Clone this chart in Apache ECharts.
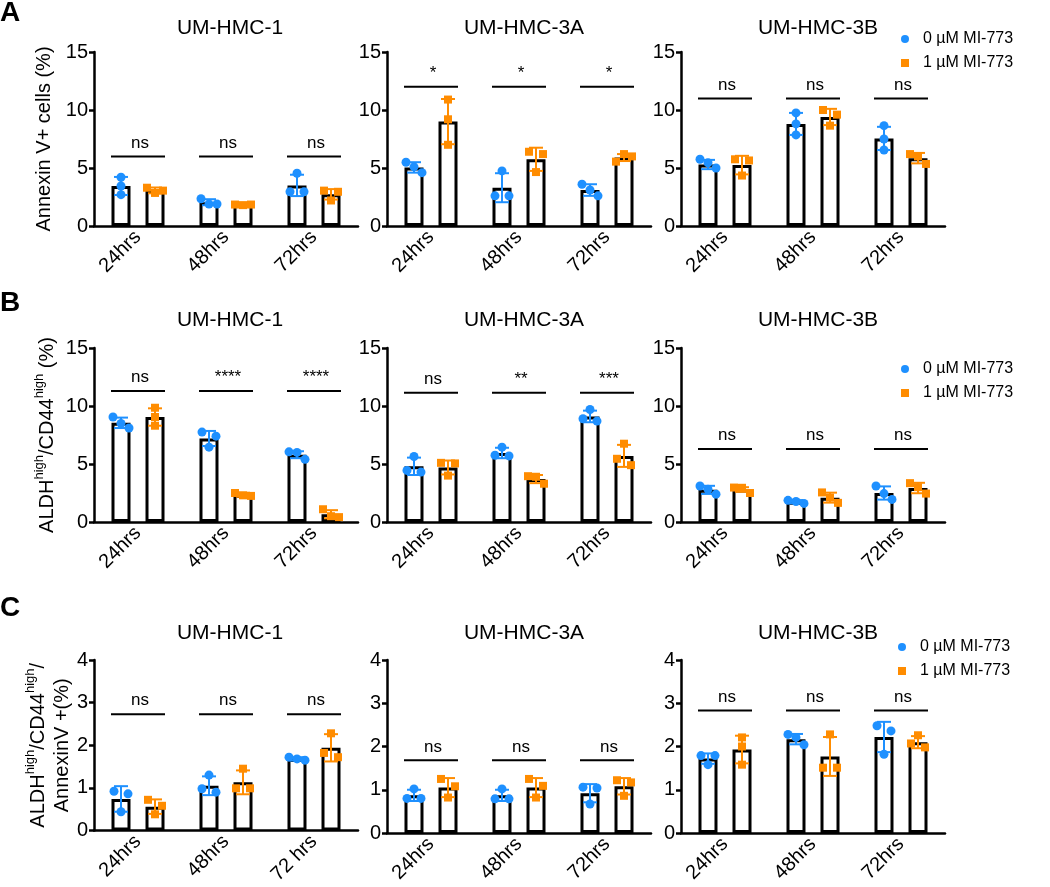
<!DOCTYPE html>
<html><head><meta charset="utf-8">
<script src="https://cdn.jsdelivr.net/npm/echarts@6/dist/echarts.min.js"></script>
<style>html,body{margin:0;padding:0;background:#fff}#chart{width:1050px;height:887px}</style>
</head><body><div id="chart"></div>
<script>
// ---------------- DATA ----------------
const categories = ['24hrs', '48hrs', '72hrs'];
const categoriesC1 = ['24hrs', '48hrs', '72 hrs'];
const cellLines = ['UM-HMC-1', 'UM-HMC-3A', 'UM-HMC-3B'];
const seriesNames = ['0 µM MI-773', '1 µM MI-773'];
const panelLetters = ['A', 'B', 'C'];
const yMaxRows = [15, 15, 4];
const yIntervalRows = [5, 5, 1];

// Row A: Annexin V+ cells (%)
const A1_mean0 = [3.45, 2.05, 3.5],  A1_sd0 = [0.78, 0.26, 0.92], A1_pts0 = [[4.2, 3.45, 2.7], [2.35, 1.9, 1.9], [4.55, 2.95, 2.95]];
const A1_mean1 = [3.07, 1.83, 2.73], A1_sd1 = [0.25, 0.04, 0.45], A1_pts1 = [[3.3, 2.85, 3.05], [1.85, 1.8, 1.85], [3.05, 2.95, 2.2]];
const A1_sigY = 6.0, A1_sig = ['ns', 'ns', 'ns'];

const A2_mean0 = [5.05, 3.3, 3.1],   A2_sd0 = [0.45, 1.25, 0.5],  A2_pts0 = [[5.5, 5.1, 4.6], [4.75, 2.6, 2.6], [3.6, 3.1, 2.6]];
const A2_mean1 = [9.0, 5.75, 5.9],   A2_sd1 = [1.95, 1.0, 0.3],   A2_pts1 = [[10.9, 9.2, 7.0], [6.4, 6.2, 4.65], [5.55, 6.2, 6.0]];
const A2_sigY = 12.0, A2_sig = ['*', '*', '*'];

const A3_mean0 = [5.3, 8.8, 7.55],   A3_sd0 = [0.4, 0.95, 1.0],   A3_pts0 = [[5.75, 5.45, 5.0], [9.75, 8.8, 7.85], [8.65, 7.5, 6.55]];
const A3_mean1 = [5.25, 9.4, 5.85],  A3_sd1 = [0.8, 0.7, 0.45],   A3_pts1 = [[5.75, 5.65, 4.35], [10.0, 9.6, 8.65], [6.2, 6.0, 5.35]];
const A3_sigY = 11.0, A3_sig = ['ns', 'ns', 'ns'];

// Row B: ALDHhigh/CD44high (%)
const B1_mean0 = [8.55, 7.2, 5.8],   B1_sd0 = [0.45, 0.65, 0.3],  B1_pts0 = [[9.05, 8.5, 8.1], [7.75, 7.4, 6.45], [6.05, 6.0, 5.4]];
const B1_mean1 = [9.05, 2.35, 0.67], B1_sd1 = [0.75, 0.17, 0.35], B1_pts1 = [[9.85, 9.05, 8.3], [2.5, 2.3, 2.25], [1.1, 0.5, 0.42]];
const B1_sigY = 11.3, B1_sig = ['ns', '****', '****'];

const B2_mean0 = [4.8, 5.95, 9.1],   B2_sd0 = [0.75, 0.45, 0.5],  B2_pts0 = [[5.65, 4.45, 4.3], [6.45, 5.75, 5.7], [9.7, 8.9, 8.7]];
const B2_mean1 = [4.7, 3.7, 5.7],    B2_sd1 = [0.6, 0.35, 0.95],  B2_pts1 = [[5.1, 5.05, 4.0], [3.95, 3.9, 3.3], [6.75, 5.45, 4.9]];
const B2_sigY = 11.15, B2_sig = ['ns', '**', '***'];

const B3_mean0 = [2.77, 1.75, 2.5],  B3_sd0 = [0.35, 0.14, 0.57], B3_pts0 = [[3.1, 2.82, 2.4], [1.87, 1.77, 1.6], [3.1, 2.45, 1.95]];
const B3_mean1 = [2.8, 2.1, 2.93],   B3_sd1 = [0.2, 0.43, 0.45],  B3_pts1 = [[2.97, 2.95, 2.5], [2.55, 2.1, 1.65], [3.35, 3.0, 2.45]];
const B3_sigY = 6.3, B3_sig = ['ns', 'ns', 'ns'];

// Row C: ALDHhigh/CD44high/AnnexinV+ (%)
const C1_mean0 = [0.74, 1.05, 1.68], C1_sd0 = [0.3, 0.22, 0.04],  C1_pts0 = [[0.92, 0.86, 0.44], [1.3, 0.98, 0.9], [1.72, 1.68, 1.65]];
const C1_mean1 = [0.56, 1.13, 1.94], C1_sd1 = [0.17, 0.28, 0.32], C1_pts1 = [[0.72, 0.58, 0.38], [1.45, 0.99, 0.99], [2.28, 1.82, 1.72]];
const C1_sigY = 2.73, C1_sig = ['ns', 'ns', 'ns'];

const C2_mean0 = [0.87, 0.87, 0.92], C2_sd0 = [0.13, 0.13, 0.21], C2_pts0 = [[1.02, 0.8, 0.8], [1.02, 0.79, 0.79], [1.06, 1.04, 0.67]];
const C2_mean1 = [1.05, 1.05, 1.08], C2_sd1 = [0.22, 0.22, 0.19], C2_pts1 = [[1.25, 1.08, 0.82], [1.25, 1.09, 0.82], [1.22, 1.17, 0.86]];
const C2_sigY = 1.68, C2_sig = ['ns', 'ns', 'ns'];

const C3_mean0 = [1.72, 2.17, 2.22], C3_sd0 = [0.12, 0.12, 0.35], C3_pts0 = [[1.79, 1.79, 1.58], [2.28, 2.21, 2.04], [2.48, 2.36, 1.82]];
const C3_mean1 = [1.93, 1.77, 2.1],  C3_sd1 = [0.32, 0.45, 0.14], C3_pts1 = [[2.21, 2.0, 1.58], [2.28, 1.51, 1.51], [2.26, 2.07, 1.98]];
const C3_sigY = 2.83, C3_sig = ['ns', 'ns', 'ns'];

// ---------------- PANELS ----------------
const panels = [
  {row: 0, col: 0, cats: categories,   m: [A1_mean0, A1_mean1], s: [A1_sd0, A1_sd1], p: [A1_pts0, A1_pts1], sigY: A1_sigY, sig: A1_sig},
  {row: 0, col: 1, cats: categories,   m: [A2_mean0, A2_mean1], s: [A2_sd0, A2_sd1], p: [A2_pts0, A2_pts1], sigY: A2_sigY, sig: A2_sig},
  {row: 0, col: 2, cats: categories,   m: [A3_mean0, A3_mean1], s: [A3_sd0, A3_sd1], p: [A3_pts0, A3_pts1], sigY: A3_sigY, sig: A3_sig},
  {row: 1, col: 0, cats: categories,   m: [B1_mean0, B1_mean1], s: [B1_sd0, B1_sd1], p: [B1_pts0, B1_pts1], sigY: B1_sigY, sig: B1_sig},
  {row: 1, col: 1, cats: categories,   m: [B2_mean0, B2_mean1], s: [B2_sd0, B2_sd1], p: [B2_pts0, B2_pts1], sigY: B2_sigY, sig: B2_sig},
  {row: 1, col: 2, cats: categories,   m: [B3_mean0, B3_mean1], s: [B3_sd0, B3_sd1], p: [B3_pts0, B3_pts1], sigY: B3_sigY, sig: B3_sig},
  {row: 2, col: 0, cats: categoriesC1, m: [C1_mean0, C1_mean1], s: [C1_sd0, C1_sd1], p: [C1_pts0, C1_pts1], sigY: C1_sigY, sig: C1_sig},
  {row: 2, col: 1, cats: categories,   m: [C2_mean0, C2_mean1], s: [C2_sd0, C2_sd1], p: [C2_pts0, C2_pts1], sigY: C2_sigY, sig: C2_sig},
  {row: 2, col: 2, cats: categories,   m: [C3_mean0, C3_mean1], s: [C3_sd0, C3_sd1], p: [C3_pts0, C3_pts1], sigY: C3_sigY, sig: C3_sig}
];

// ---------------- STYLE / LAYOUT ----------------
const FONT = "'Liberation Sans', Arial, Helvetica, sans-serif";
const COLORS = ['#1E90FF', '#FF8C00'];
const rowTop = [52, 348, 660];
const rowHeight = [174, 174, 173];
const colLeft = [94, 387, 681];
const gridWidth = 264;
const BAR_W = 19, BAR_OFF = 17, AX_W = 2.5;

const yNames = [
  'Annexin V+ cells (%)',
  '{n|ALDH}{s|high}{n|/CD44}{s|high}{n| (%)}',
  '{n|ALDH}{s|high}{n|/CD44}{s|high}{n|/}\n{n|AnnexinV +(%)}'
];
const yNameGaps = [40, 37, 22];
const nameRich = {
  n: {fontSize: 20, fontFamily: FONT, color: '#000', lineHeight: 24, verticalAlign: 'bottom'},
  s: {fontSize: 13, fontFamily: FONT, color: '#000', lineHeight: 14, verticalAlign: 'top'}
};

function jitterOffsets(ys) {
  const idx = ys.map((_, i) => i).sort((a, b) => ys[a] - ys[b]);
  const groups = [[idx[0]]];
  for (let k = 1; k < idx.length; k++) {
    if (Math.abs(ys[idx[k]] - ys[idx[k - 1]]) < 8) groups[groups.length - 1].push(idx[k]);
    else groups.push([idx[k]]);
  }
  const off = ys.map(() => 0);
  groups.forEach(g => {
    const step = g.length === 2 ? 14 : 8;
    g.slice().sort((a, b) => a - b).forEach((i, k) => { off[i] = (k - (g.length - 1) / 2) * step; });
  });
  return off;
}

function makeErrRender(si) {
  const color = COLORS[si];
  const sign = si === 0 ? -1 : 1;
  return function (params, api) {
    const cat = api.value(0), mean = api.value(1), sd = api.value(2);
    const vals = [api.value(3), api.value(4), api.value(5)];
    const cx = api.coord([cat, 0])[0] + sign * BAR_OFF;
    const yT = api.coord([cat, mean + sd])[1];
    const yB = api.coord([cat, Math.max(0, mean - sd)])[1];
    const st = {stroke: color, lineWidth: 2};
    const children = [
      {type: 'line', shape: {x1: cx, y1: yT, x2: cx, y2: yB}, style: st},
      {type: 'line', shape: {x1: cx - 7, y1: yT, x2: cx + 7, y2: yT}, style: st},
      {type: 'line', shape: {x1: cx - 7, y1: yB, x2: cx + 7, y2: yB}, style: st}
    ];
    const ys = vals.map(v => api.coord([cat, v])[1]);
    const offs = jitterOffsets(ys);
    ys.forEach((y, i) => {
      const x = cx + offs[i];
      if (si === 0) children.push({type: 'circle', shape: {cx: x, cy: y, r: 4.5}, style: {fill: color}});
      else children.push({type: 'rect', shape: {x: x - 4, y: y - 4, width: 8, height: 8}, style: {fill: color}});
    });
    return {type: 'group', children: children};
  };
}

function makeSigRender(labels) {
  return function (params, api) {
    const cat = api.value(0), yv = api.value(1);
    const pt = api.coord([cat, yv]);
    return {type: 'group', children: [
      {type: 'line', shape: {x1: pt[0] - 27, y1: pt[1], x2: pt[0] + 27, y2: pt[1]}, style: {stroke: '#000', lineWidth: 2}},
      {type: 'text', x: pt[0] + 2, y: pt[1] - 5, style: {text: labels[params.dataIndex], fill: '#000', font: '17px ' + FONT, textAlign: 'center', textVerticalAlign: 'bottom'}}
    ]};
  };
}

const grids = [], xAxes = [], yAxes = [], series = [], titles = [], legends = [];

panels.forEach((pn, gi) => {
  const r = pn.row, c = pn.col;
  grids.push({left: colLeft[c], top: rowTop[r], width: gridWidth, height: rowHeight[r]});
  xAxes.push({
    type: 'category', gridIndex: gi, data: pn.cats,
    axisLine: {lineStyle: {color: '#000', width: AX_W}},
    axisTick: {alignWithLabel: true, length: 5, lineStyle: {color: '#000', width: AX_W}},
    axisLabel: {rotate: 45, fontSize: 20, color: '#000', fontFamily: FONT, margin: 8},
    splitLine: {show: false}
  });
  const ya = {
    type: 'value', gridIndex: gi, min: 0, max: yMaxRows[r], interval: yIntervalRows[r],
    axisLine: {show: true, lineStyle: {color: '#000', width: AX_W}},
    axisTick: {show: true, length: 5, lineStyle: {color: '#000', width: AX_W}},
    axisLabel: {fontSize: 20, color: '#000', fontFamily: FONT, margin: 6},
    splitLine: {show: false}
  };
  if (c === 0) {
    ya.name = yNames[r];
    ya.nameLocation = 'middle';
    ya.nameGap = yNameGaps[r];
    ya.nameTextStyle = {fontSize: 20, color: '#000', fontFamily: FONT, rich: nameRich, align: 'center'};
  }
  yAxes.push(ya);

  [0, 1].forEach(si => {
    series.push({
      type: 'bar', name: 'bar' + si, xAxisIndex: gi, yAxisIndex: gi,
      data: pn.m[si], barWidth: BAR_W, barGap: '79%', z: 2,
      itemStyle: {color: '#fff', borderColor: '#000', borderWidth: 3},
      silent: true, animation: false
    });
  });
  [0, 1].forEach(si => {
    series.push({
      type: 'custom', name: seriesNames[si], xAxisIndex: gi, yAxisIndex: gi, z: 4,
      itemStyle: {color: COLORS[si]},
      renderItem: makeErrRender(si),
      encode: {x: 0, y: 1},
      data: pn.m[si].map((mv, k) => [k, mv, pn.s[si][k]].concat(pn.p[si][k])),
      animation: false, silent: true
    });
  });
  series.push({
    type: 'custom', name: 'sig', xAxisIndex: gi, yAxisIndex: gi, z: 5,
    renderItem: makeSigRender(pn.sig),
    encode: {x: 0, y: 1},
    data: pn.sig.map((_, k) => [k, pn.sigY]),
    animation: false, silent: true
  });
});

const rowTitleTop = [13, 305, 618];
const colCenter = [225, 519, 813];
for (let r = 0; r < 3; r++) {
  for (let c = 0; c < 3; c++) {
    titles.push({text: cellLines[c], left: colCenter[c], top: rowTitleTop[r], textAlign: 'center',
      textStyle: {fontSize: 21, fontWeight: 'normal', color: '#000', fontFamily: FONT}});
  }
}
const letterTop = [-1, 289, 594];
panelLetters.forEach((L, r) => {
  titles.push({text: L, left: 0, top: letterTop[r], padding: 0,
    textStyle: {fontSize: 28, fontWeight: 'bold', color: '#000', fontFamily: FONT}});
});

const legendPos = [[901, 31], [901, 361], [898, 639]];
legendPos.forEach(lp => {
  legends.push({
    orient: 'vertical', left: lp[0], top: lp[1], itemWidth: 8, itemHeight: 8, itemGap: 8,
    padding: 0, selectedMode: false,
    textStyle: {fontSize: 16, color: '#000', fontFamily: FONT, lineHeight: 16, padding: [0, 0, 0, 9]},
    data: [{name: seriesNames[0], icon: 'circle'}, {name: seriesNames[1], icon: 'rect'}]
  });
});

const chart = echarts.init(document.getElementById('chart'), null, {renderer: 'canvas'});
chart.setOption({
  backgroundColor: '#fff',
  animation: false,
  title: titles,
  legend: legends,
  grid: grids,
  xAxis: xAxes,
  yAxis: yAxes,
  series: series
});
</script></body></html>
